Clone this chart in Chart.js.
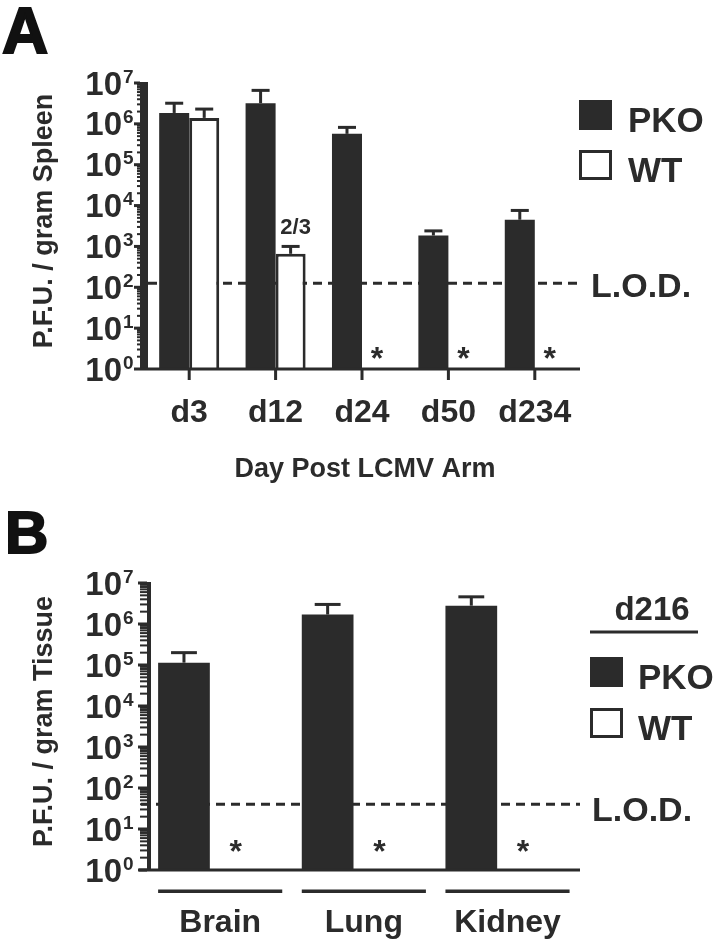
<!DOCTYPE html>
<html>
<head>
<meta charset="utf-8">
<script src="https://cdn.jsdelivr.net/npm/chart.js@4.4.1/dist/chart.umd.min.js"></script>
<style>
  html, body { margin: 0; padding: 0; background: #fff; }
  .panel { position: absolute; left: 0; width: 714px; }
  #panelA { top: 0; height: 498px; }
  #panelB { top: 480px; height: 459px; }
</style>
</head>
<body>
<div class="panel" id="panelA"><canvas id="chartA"></canvas></div>
<div class="panel" id="panelB"><canvas id="chartB"></canvas></div>
<script>
// Panel A - spleen titres by day post infection
const daysA = ['d3', 'd12', 'd24', 'd50', 'd234'];
const pkoA = [1.85e6, 3.2e6, 5.7e5, 1850, 4500];
const pkoErrA = [3.2e6, 6.6e6, 8.2e5, 2400, 7600];
const wtA = [1.4e6, 660, null, null, null];
const wtErrA = [2.3e6, 1000, null, null, null];
const notesA = [null, '2/3', null, null, null];
const lodA = 126;

// Panel B - tissue titres at d216
const tissuesB = ['Brain', 'Lung', 'Kidney'];
const pkoB = [1.14e5, 1.7e6, 2.8e6];
const pkoErrB = [2.0e5, 3.0e6, 4.6e6];
const wtB = [null, null, null];
const wtErrB = [null, null, null];
const lodB = 40;

const yExponents = [0, 1, 2, 3, 4, 5, 6, 7];
const seriesNames = ['PKO', 'WT'];

const INK = '#2b2b2b';
const FONT = '"Liberation Sans", Arial, Helvetica, sans-serif';

function makeFigurePlugin(p) {
  return {
    id: 'figure' + p.letter,
    beforeDatasetsDraw(chart) {
      const {ctx, scales: {y}} = chart;
      const ly = y.getPixelForValue(p.lod);
      ctx.save();
      ctx.strokeStyle = INK;
      ctx.lineWidth = 3;
      ctx.setLineDash([9, 6]);
      ctx.beginPath();
      ctx.moveTo(p.lodStart, ly);
      ctx.lineTo(p.axisRight, ly);
      ctx.stroke();
      ctx.restore();
    },
    afterDraw(chart) {
      const {ctx, chartArea, scales: {x, y}} = chart;
      const bottom = y.getPixelForValue(1);
      const top = y.getPixelForValue(1e7);
      ctx.save();
      ctx.fillStyle = INK;
      ctx.strokeStyle = INK;

      // axes
      ctx.fillRect(p.axisX - p.axisW / 2, top - 1, p.axisW, bottom - top + 2);
      ctx.fillRect(p.xAxisLeft, bottom - 1.5, p.axisRight - p.xAxisLeft, 3);

      // y ticks with 10^n labels
      yExponents.forEach(e => {
        const ty = y.getPixelForValue(Math.pow(10, e));
        ctx.fillRect(p.axisX - p.axisW / 2 - p.majorLen, ty - 1.5, p.majorLen, 3);
        if (e < 7) {
          for (let m = 2; m <= 9; m++) {
            const my = y.getPixelForValue(m * Math.pow(10, e));
            ctx.fillRect(p.axisX - p.axisW / 2 - p.minorLen, my - 1, p.minorLen, 2);
          }
        }
        ctx.textBaseline = 'alphabetic';
        ctx.font = 'bold 33px ' + FONT;
        ctx.textAlign = 'right';
        ctx.fillText('10', p.tickRight, ty + 11.5);
        ctx.font = 'bold 19px ' + FONT;
        ctx.textAlign = 'left';
        ctx.fillText(String(e), p.tickRight + 1, ty - 0.5);
      });

      // y title
      ctx.save();
      ctx.translate(52, (chartArea.top + chartArea.bottom) / 2 - 5);
      ctx.rotate(-Math.PI / 2);
      ctx.font = 'bold 27px ' + FONT;
      ctx.textAlign = 'center';
      ctx.fillText(p.yTitle, 0, 0);
      ctx.restore();

      // error bars
      [[0, p.pkoErr], [1, p.wtErr]].forEach(([di, errs]) => {
        chart.getDatasetMeta(di).data.forEach((bar, i) => {
          if (errs[i] == null) return;
          const b = bar.getProps(['x', 'y', 'width'], true);
          const ey = y.getPixelForValue(errs[i]);
          const cap = b.width * p.capFrac;
          ctx.fillRect(b.x - 1.5, ey, 3, b.y - ey);
          ctx.fillRect(b.x - cap / 2, ey - 1.5, cap, 3);
        });
      });

      // asterisks where WT was below detection
      ctx.font = 'bold 32px ' + FONT;
      ctx.textAlign = 'center';
      chart.getDatasetMeta(1).data.forEach((bar, i) => {
        if (p.wt[i] != null) return;
        ctx.fillText('*', bar.x, bottom - p.starLift);
      });

      // notes above error bars
      if (p.notes) {
        ctx.font = 'bold 22px ' + FONT;
        chart.getDatasetMeta(1).data.forEach((bar, i) => {
          if (!p.notes[i]) return;
          ctx.fillText(p.notes[i], bar.x + 5, y.getPixelForValue(p.wtErr[i]) - 12);
        });
      }

      // category labels
      const pkoBars = chart.getDatasetMeta(0).data;
      ctx.font = 'bold 32px ' + FONT;
      ctx.textAlign = 'center';
      p.labels.forEach((lab, i) => {
        if (p.brackets) {
          const b = pkoBars[i];
          const left = b.x - b.width / 2;
          const w = b.width * 2.4;
          ctx.fillRect(left, p.bracketY - 1.5, w, 3.5);
          ctx.fillText(lab, left + w / 2, p.labelBase);
        } else {
          const cx = x.getPixelForValue(i);
          ctx.fillRect(cx - 1.5, bottom, 3, 11);
          ctx.fillText(lab, cx, p.labelBase);
        }
      });

      // x title
      if (p.xTitle) {
        ctx.font = 'bold 27px ' + FONT;
        ctx.fillText(p.xTitle, (chartArea.left + chartArea.right) / 2 + 3, p.xTitleBase);
      }

      // L.O.D. label
      ctx.font = 'bold 34px ' + FONT;
      ctx.textAlign = 'left';
      ctx.fillText('L.O.D.', p.lodTextX, y.getPixelForValue(p.lod) + p.lodTextDy);

      // legend
      if (p.header) {
        ctx.font = 'bold 33px ' + FONT;
        ctx.textAlign = 'center';
        ctx.fillText(p.header, p.headerX, p.headerBase);
        ctx.fillRect(p.legendX, p.headerBase + 10.5, 108, 3);
      }
      ctx.textAlign = 'left';
      ctx.font = 'bold 35px ' + FONT;
      seriesNames.forEach((name, k) => {
        const by = p.legendY + k * p.legendGap;
        if (k === 0) {
          ctx.fillRect(p.legendX, by, 33, 30);
        } else {
          ctx.lineWidth = 3;
          ctx.strokeRect(p.legendX + 1.5, by + 1.5, 30, 27);
        }
        ctx.fillText(name, p.legendX + p.legendTextDx, by + 32);
      });

      // panel letter
      ctx.font = 'bold ' + p.letterSize + 'px ' + FONT;
      ctx.fillStyle = '#111';
      ctx.strokeStyle = '#111';
      ctx.lineWidth = 2;
      ctx.fillText(p.letter, p.letterX, p.letterBase);
      ctx.strokeText(p.letter, p.letterX, p.letterBase);
      ctx.restore();
    }
  };
}

function buildChart(canvasId, labels, pko, wt, catPct, padding, plugin) {
  return new Chart(document.getElementById(canvasId), {
    type: 'bar',
    data: {
      labels: labels,
      datasets: [
        {
          label: seriesNames[0],
          data: pko,
          backgroundColor: INK,
          borderWidth: 0,
          categoryPercentage: catPct,
          barPercentage: 1.0
        },
        {
          label: seriesNames[1],
          data: wt,
          backgroundColor: '#ffffff',
          borderColor: INK,
          borderWidth: 3,
          categoryPercentage: catPct,
          barPercentage: 1.0
        }
      ]
    },
    options: {
      responsive: true,
      maintainAspectRatio: false,
      animation: { duration: 0 },
      layout: { padding: padding },
      plugins: {
        legend: { display: false },
        tooltip: { enabled: false }
      },
      scales: {
        x: { type: 'category', display: false },
        y: { type: 'logarithmic', display: false, min: 1, max: 1e7 }
      }
    },
    plugins: [plugin]
  });
}

buildChart('chartA', daysA, pkoA, wtA, 0.695,
  { left: 146, right: 136, top: 83, bottom: 129 },
  makeFigurePlugin({
    letter: 'A', letterSize: 64, letterX: 2, letterBase: 53,
    pkoErr: pkoErrA, wtErr: wtErrA, wt: wtA, notes: notesA, lod: lodA,
    labels: daysA, brackets: false, labelBase: 422,
    yTitle: 'P.F.U. / gram Spleen', xTitle: 'Day Post LCMV Arm', xTitleBase: 477,
    axisX: 144, axisW: 8, majorLen: 6, minorLen: 3, tickRight: 122,
    xAxisLeft: 140, axisRight: 580, lodStart: 148,
    capFrac: 0.6, starLift: 0,
    lodTextX: 591, lodTextDy: 14,
    legendX: 579, legendY: 100, legendGap: 50, legendTextDx: 49
  }));

buildChart('chartB', tissuesB, pkoB, wtB, 0.72,
  { left: 138, right: 145, top: 103, bottom: 69 },
  makeFigurePlugin({
    letter: 'B', letterSize: 60, letterX: 5, letterBase: 73,
    pkoErr: pkoErrB, wtErr: wtErrB, wt: wtB, notes: null, lod: lodB,
    labels: tissuesB, brackets: true, bracketY: 411, labelBase: 452,
    yTitle: 'P.F.U. / gram Tissue', xTitle: null,
    axisX: 149, axisW: 4, majorLen: 9, minorLen: 7, tickRight: 122,
    xAxisLeft: 139, axisRight: 580, lodStart: 141,
    capFrac: 0.5, starLift: 8,
    lodTextX: 592, lodTextDy: 17,
    header: 'd216', headerX: 652, headerBase: 140,
    legendX: 590, legendY: 177, legendGap: 51, legendTextDx: 48
  }));
</script>
</body>
</html>
